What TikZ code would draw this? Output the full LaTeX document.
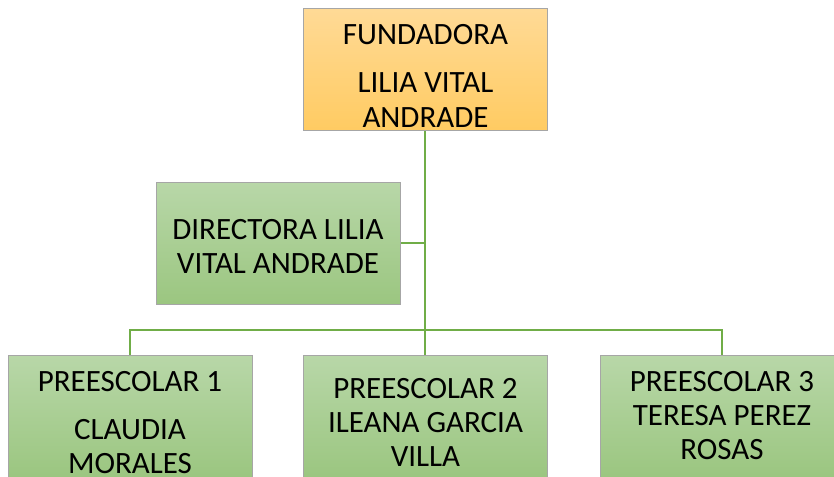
\documentclass[tikz,border=0pt]{standalone}
\usepackage{fontspec}
\setmainfont{Carlito}
\usepackage{tikz}
\usetikzlibrary{positioning}
\definecolor{orangetop}{RGB}{255,218,150}
\definecolor{orangebot}{RGB}{255,203,98}
\definecolor{greentop}{RGB}{184,215,168}
\definecolor{greenbot}{RGB}{155,198,128}
\definecolor{linegreen}{RGB}{112,173,71}
\tikzset{box/.style = {draw = black!35, line width = 0.8pt, minimum width = 244,
                       minimum height = 122, inner sep = 0, anchor = north west}}
\tikzset{orangebox/.style = {box, top color = orangetop, bottom color = orangebot}}
\tikzset{greenbox/.style = {box, top color = greentop, bottom color = greenbot}}
\tikzset{txt/.style = {align = center, inner sep = 0, anchor = base,
                       font = \fontsize{31}{34}\selectfont}}
\tikzset{conn/.style = {draw = linegreen, line width = 2pt}}

\begin{document}
\begin{tikzpicture}[x=1pt, y=-1pt]
    \useasboundingbox (0, 0) rectangle (834, 476);
    \fill [white] (0, 0) rectangle (834, 476);

    \node [orangebox] (fund) at (303, 8) {};
    \node [greenbox] (dir) at (156, 182) {};
    \node [greenbox] (pre1) at (8, 355) {};
    \node [greenbox] (pre2) at (303, 355) {};
    \node [greenbox] (pre3) at (600, 355) {};

    \coordinate (bus) at (fund.south |- 0, 330);
    \coordinate (dirjoin) at (fund.south |- dir.east);
    \draw [conn] (fund.south) -- (pre2.north);
    \draw [conn] (dir.east) -- (dirjoin);
    \draw [conn] (pre1.north) |- (bus) -| (pre3.north);

    % anchor base sits on the last line
    \node [txt] (fundtxt) at (425.5, 127) {FUNDADORA\\[14pt]LILIA VITAL\\ANDRADE};
    \node [txt] (dirtxt) at (278, 273) {DIRECTORA LILIA\\VITAL ANDRADE};
    \node [txt] (pre1txt) at (130, 473) {PREESCOLAR 1\\[14pt]CLAUDIA\\MORALES};
    \node [txt] (pre2txt) at (425.5, 466) {PREESCOLAR 2\\ILEANA GARCIA\\VILLA};
    \node [txt] (pre3txt) at (722, 459) {PREESCOLAR 3\\TERESA PEREZ\\ROSAS};
  \end{tikzpicture}
\end{document}
